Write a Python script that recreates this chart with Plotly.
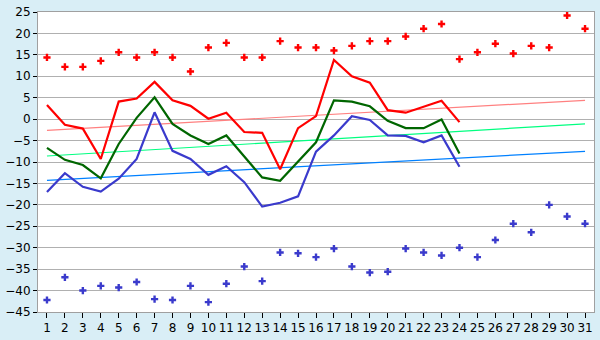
import plotly.graph_objects as go

days = list(range(1, 32))
max_pts = [14.4, 12.2, 12.2, 13.6, 15.6, 14.4, 15.6, 14.4, 11.1, 16.7,
           17.8, 14.4, 14.4, 18.2, 16.7, 16.7, 16.0, 17.1, 18.2, 18.2,
           19.3, 21.1, 22.2, 14.0, 15.6, 17.6, 15.3, 17.1, 16.7, 24.2, 21.1]
min_pts = [-42.2, -36.9, -40.0, -38.9, -39.3, -38.0, -42.0, -42.2, -38.9, -42.7,
           -38.4, -34.4, -37.8, -31.1, -31.3, -32.2, -30.2, -34.4, -35.8, -35.6,
           -30.2, -31.1, -31.8, -30.0, -32.2, -28.2, -24.4, -26.4, -20.0, -22.7, -24.4]
line_days = list(range(1, 25))
high_line = [3.3, -1.3, -2.2, -9.3, 4.1, 4.8, 8.7, 4.4, 3.1, 0.1,
             1.5, -3.0, -3.2, -11.7, -2.1, 0.7, 13.8, 10.0, 8.5, 2.1,
             1.5, 2.9, 4.3, -0.7]
mean_line = [-6.7, -9.5, -10.7, -13.8, -5.8, 0.3, 5.1, -1.1, -3.8, -5.8,
             -3.8, -8.7, -13.6, -14.4, -9.9, -5.4, 4.4, 4.1, 3.0, -0.4,
             -2.1, -2.1, -0.1, -8.0]
low_line = [-17.0, -12.6, -15.8, -16.9, -13.9, -9.3, 1.6, -7.4, -9.3, -13.0,
            -11.0, -14.7, -20.4, -19.5, -18.0, -7.6, -3.8, 0.7, -0.2, -3.8,
            -3.9, -5.4, -3.8, -11.1]
trend_days = [1, 31]
trend_high = [-2.6, 4.4]
trend_mean = [-8.6, -1.1]
trend_low = [-14.3, -7.5]
y_ticks = list(range(-45, 30, 5))

fig = go.Figure()
for y, c in [(trend_high, "#ff8080"), (trend_mean, "#00ff80"), (trend_low, "#0080ff")]:
    fig.add_trace(go.Scatter(x=trend_days, y=y, mode="lines",
                             line=dict(color=c, width=1.2), hoverinfo="skip"))
for y, c in [(high_line, "#ff0000"), (mean_line, "#006600"), (low_line, "#3a3acc")]:
    fig.add_trace(go.Scatter(x=line_days, y=y, mode="lines",
                             line=dict(color=c, width=2.2)))
fig.add_trace(go.Scatter(x=days, y=max_pts, mode="markers",
                         marker=dict(symbol="cross", size=6, color="#ff0000")))
fig.add_trace(go.Scatter(x=days, y=min_pts, mode="markers",
                         marker=dict(symbol="cross", size=6, color="#3a3acc")))

fig.update_layout(
    width=600, height=340, showlegend=False,
    margin=dict(l=26, r=5, t=5, b=20),
    paper_bgcolor="#d9eef6", plot_bgcolor="#ffffff",
    font=dict(family="DejaVu Sans", size=12, color="#000000"),
)
fig.update_xaxes(range=[0.5, 31.5], tickmode="array", tickvals=days,
                 ticks="outside", ticklen=5, tickcolor="#000000",
                 showgrid=False, showline=True, linecolor="#a0a0a0", mirror=True,
                 zeroline=False, tickfont=dict(size=12), ticklabeloverflow="allow")
fig.update_yaxes(range=[-45, 25], tickmode="array", tickvals=y_ticks,
                 ticks="outside", ticklen=4, tickcolor="#000000",
                 showgrid=True, gridcolor="#b0b0b0", gridwidth=1,
                 showline=True, linecolor="#a0a0a0", mirror=True,
                 zeroline=False, tickfont=dict(size=12), ticklabeloverflow="allow")
fig.write_html("out.html")
